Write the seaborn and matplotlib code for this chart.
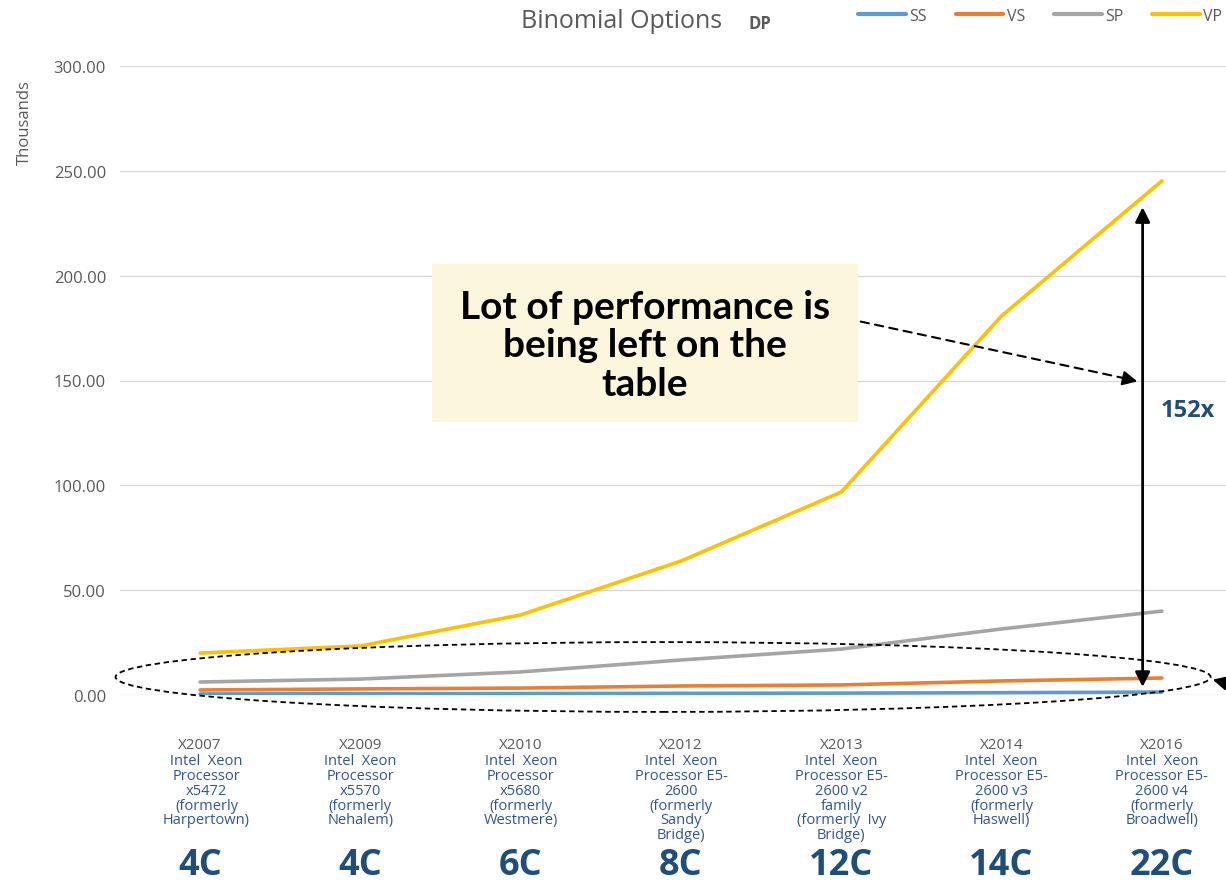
import numpy as np
import pandas as pd
import matplotlib
matplotlib.use("Agg")
import matplotlib.pyplot as plt
from matplotlib.patches import Rectangle, Ellipse
from matplotlib.lines import Line2D
import seaborn as sns

# data (thousands)
years = ["X2007", "X2009", "X2010", "X2012", "X2013", "X2014", "X2016"]
processors = [
    "Intel  Xeon\nProcessor\nx5472\n(formerly\nHarpertown)",
    "Intel  Xeon\nProcessor\nx5570\n(formerly\nNehalem)",
    "Intel  Xeon\nProcessor\nx5680\n(formerly\nWestmere)",
    "Intel  Xeon\nProcessor E5-\n2600\n(formerly\nSandy\nBridge)",
    "Intel  Xeon\nProcessor E5-\n2600 v2\nfamily\n(formerly  Ivy\nBridge)",
    "Intel  Xeon\nProcessor E5-\n2600 v3\n(formerly\nHaswell)",
    "Intel  Xeon\nProcessor E5-\n2600 v4\n(formerly\nBroadwell)",
]
cores = ["4C", "4C", "6C", "8C", "12C", "14C", "22C"]
ss = [0.5, 0.6, 0.7, 0.8, 0.9, 1.1, 1.4]
vs = [2.4, 2.9, 3.3, 4.3, 4.8, 6.7, 8.1]
sp = [6.2, 7.6, 11.0, 16.7, 21.9, 31.5, 40.0]
vp = [20.0, 23.4, 38.2, 63.9, 96.8, 180.8, 245.2]
series = ["SS", "VS", "SP", "VP"]
colors = {"SS": "#5B9BD5", "VS": "#ED7D31", "SP": "#A5A5A5", "VP": "#FFC000"}

rows = []
for name, vals in zip(series, [ss, vs, sp, vp]):
    for i, v in enumerate(vals):
        rows.append({"idx": i, "value": v, "series": name})
df = pd.DataFrame(rows)

sns.set_theme(style="white")
plt.rcParams['font.family'] = ['Open Sans', 'DejaVu Sans']

W, H = 1226, 887
fig = plt.figure(figsize=(W / 100, H / 100), dpi=100)
ax = fig.add_axes([120 / W, 191 / H, 1122 / W, 629 / H])

def fx(x, y):
    return (x / W, 1 - y / H)

sns.lineplot(data=df, x="idx", y="value", hue="series", palette=colors,
             hue_order=series, linewidth=2.6, ax=ax, legend=False)

ax.set_xlim(-0.5, 6.5)
ax.set_ylim(0, 300)
ax.set_yticks(np.arange(0, 301, 50))
ax.set_yticklabels([f"{v:.2f}" for v in np.arange(0, 301, 50)], color="#595959", fontsize=12)
ax.set_xticks(range(len(years)))
ax.set_xticklabels(years, color="#595959", fontsize=11)
ax.tick_params(axis='both', length=0, pad=10)
ax.tick_params(axis='x', pad=30)
ax.yaxis.grid(True, color="#D9D9D9", linewidth=1)
ax.set_axisbelow(True)
for s in ax.spines.values():
    s.set_visible(False)
ax.set_xlabel("")
ax.set_ylabel("")
fig.text(25 / W, 1 - 123 / H, "Thousands", rotation=90, ha="center", va="center",
         color="#595959", fontsize=12)

# processor names and core counts under the axis
for i, (p, c) in enumerate(zip(processors, cores)):
    ax.text(i + (0.04 if i == 0 else 0), -0.093, p, transform=ax.get_xaxis_transform(),
            ha="center", va="top", fontsize=10.5, color="#2F5597", linespacing=0.97)
    ax.text(i, -0.270, c, transform=ax.get_xaxis_transform(), ha="center", va="center",
            fontsize=26, fontweight="bold", color="#1F4E79")

# title
fig.text(*fx(622, 21), "Binomial Options", ha="center", va="center", fontsize=18, color="#595959")
fig.text(*fx(760, 24), "DP", ha="center", va="center", fontsize=12, fontweight="bold", color="#595959")

# legend
handles = [Line2D([], [], color=colors[s], linewidth=3) for s in series]
leg = fig.legend(handles, series, loc="center", bbox_to_anchor=fx(1040, 17), ncol=4,
                 frameon=False, fontsize=11.5, handlelength=3.0, columnspacing=1.8, handletextpad=0.2)
for t in leg.get_texts():
    t.set_color("#595959")

# annotation box
fig.patches.append(Rectangle(fx(432, 423), 426 / W, 158 / H, transform=fig.transFigure,
                             facecolor="#FCF6DC", edgecolor="none", zorder=5))
fig.text(*fx(645, 346), "Lot of performance is\nbeing left on the\ntable", ha="center", va="center",
         fontsize=28, fontweight="bold", color="black", family=["Lato", "DejaVu Sans"],
         linespacing=1.13, zorder=6)

# dashed pointer arrow
ax.annotate("", xy=(1128 / W, 1 - 380 / H), xytext=(858 / W, 1 - 322 / H),
            xycoords="figure fraction", textcoords="figure fraction",
            arrowprops=dict(arrowstyle="-", linestyle=(0, (4, 3)), lw=1.5, color="black"))
ax.annotate("", xy=(1140 / W, 1 - 383 / H), xytext=(1120 / W, 1 - 378.5 / H),
            xycoords="figure fraction", textcoords="figure fraction",
            arrowprops=dict(arrowstyle="-|>", lw=1.5, color="black", mutation_scale=22))

# 152x double arrow
ax.annotate("", xy=(5.88, 234), xytext=(5.88, 2.5), xycoords="data",
            arrowprops=dict(arrowstyle="<|-|>", lw=2, color="black", mutation_scale=22), annotation_clip=False)
fig.text(*fx(1188, 411), "152x", ha="center", va="center", fontsize=17, fontweight="bold", color="#1F4E79")

# dashed ellipse around the low series
ax.add_patch(Ellipse((0.484, 0.0286), 0.976, 0.111, transform=ax.transAxes, fill=False,
                     linestyle=(0, (3, 2)), linewidth=1.3, edgecolor="black", clip_on=False, zorder=4))
ax.annotate("", xy=(1210 / W, 1 - 680 / H), xytext=(1250 / W, 1 - 690 / H),
            xycoords="figure fraction", textcoords="figure fraction",
            arrowprops=dict(arrowstyle="-|>", lw=1.5, color="black", mutation_scale=22),
            annotation_clip=False)

fig.savefig("out.png", dpi=100)
